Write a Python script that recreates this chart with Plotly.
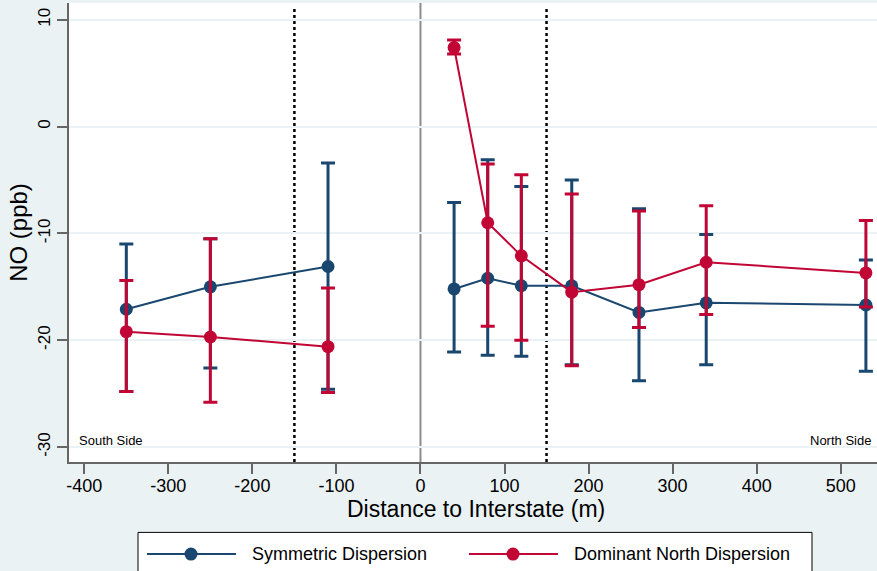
import plotly.graph_objects as go

# ---- data ----
sym_x = [-350, -250, -110, 40, 80, 120, 180, 260, 340, 530]
sym_y = [-17.1, -15.0, -13.1, -15.2, -14.2, -14.9, -14.9, -17.4, -16.5, -16.7]
sym_hi = [-11.0, -10.5, -3.4, -7.1, -3.1, -5.6, -5.0, -7.7, -10.1, -12.5]
sym_lo = [-24.8, -22.6, -24.6, -21.1, -21.4, -21.5, -22.3, -23.8, -22.3, -22.9]

dom_x = [-350, -250, -110, 40, 80, 120, 180, 260, 340, 530]
dom_y = [-19.2, -19.7, -20.6, 7.4, -9.0, -12.1, -15.5, -14.8, -12.7, -13.7]
dom_hi = [-14.4, -10.5, -15.1, 8.1, -3.5, -4.5, -6.3, -7.9, -7.4, -8.8]
dom_lo = [-24.8, -25.8, -24.9, 6.8, -18.7, -20.0, -22.4, -18.8, -17.6, -16.9]

x_ticks = [-400, -300, -200, -100, 0, 100, 200, 300, 400, 500]
y_ticks = [-30, -20, -10, 0, 10]
vlines_dotted = [-150, 150]

BLUE = "#1a476f"
RED = "#c10534"
BG = "#eaf2f3"
FONT = "Liberation Sans, Arial, sans-serif"

fig = go.Figure()

def add_series(xs, ys, hi, lo, color, name):
    # south side and north side are drawn as separate connected segments
    for side in (lambda v: v < 0, lambda v: v > 0):
        idx = [i for i, v in enumerate(xs) if side(v)]
        sx = [xs[i] for i in idx]
        sy = [ys[i] for i in idx]
        fig.add_trace(go.Scatter(
            x=sx, y=sy, mode="lines+markers", name=name,
            line=dict(color=color, width=2),
            marker=dict(color=color, size=13),
            error_y=dict(type="data", symmetric=False,
                         array=[hi[i] - ys[i] for i in idx],
                         arrayminus=[ys[i] - lo[i] for i in idx],
                         color=color, thickness=3, width=7),
            showlegend=False,
        ))

add_series(sym_x, sym_y, sym_hi, sym_lo, BLUE, "Symmetric Dispersion")
add_series(dom_x, dom_y, dom_hi, dom_lo, RED, "Dominant North Dispersion")

shapes = []
# zero line
shapes.append(dict(type="line", xref="x", yref="paper", x0=0, x1=0, y0=0, y1=1,
                   line=dict(color="#8c8c8c", width=2), layer="below"))
for v in vlines_dotted:
    shapes.append(dict(type="line", xref="x", yref="paper", x0=v, x1=v, y0=0, y1=0.993,
                       line=dict(color="black", width=2.5, dash="dot"), layer="below"))

# custom legend (paper coordinates)
def px_x(p):
    return (p - 69) / 808.0

def px_y(p):
    return (461.7 - p) / 458.4

shapes.append(dict(type="rect", xref="paper", yref="paper",
                   x0=px_x(138), x1=px_x(812), y0=px_y(590), y1=px_y(532),
                   line=dict(color="black", width=1), fillcolor="white", layer="above"))
legend_items = [(147, 236, 191, 250, BLUE, "Symmetric Dispersion"),
                (469, 558, 513, 572, RED, "Dominant North Dispersion")]
annotations = []
ly = px_y(553.7)
for x0, x1, xm, xt, col, txt in legend_items:
    shapes.append(dict(type="line", xref="paper", yref="paper",
                       x0=px_x(x0), x1=px_x(x1), y0=ly, y1=ly,
                       line=dict(color=col, width=2)))
    shapes.append(dict(type="circle", xref="paper", yref="paper",
                       xsizemode="pixel", ysizemode="pixel",
                       xanchor=px_x(xm), yanchor=ly, x0=-6.5, x1=6.5, y0=-6.5, y1=6.5,
                       line=dict(color=col, width=0), fillcolor=col))
    annotations.append(dict(xref="paper", yref="paper", x=px_x(xt), y=ly,
                            xanchor="left", yanchor="middle", text=txt, showarrow=False,
                            font=dict(size=18, color="black", family=FONT)))

annotations.append(dict(x=-409, y=-30, xref="x", yref="y", xanchor="left", yanchor="bottom",
                        yshift=-3, text="South Side", showarrow=False,
                        font=dict(size=13, color="black", family=FONT)))
annotations.append(dict(x=px_x(873), y=-30, xref="paper", yref="y", xanchor="right", yanchor="bottom",
                        yshift=-3, text="North Side", showarrow=False,
                        font=dict(size=13, color="black", family=FONT)))
# x-axis title
annotations.append(dict(x=px_x(476), y=px_y(509), xref="paper", yref="paper",
                        xanchor="center", yanchor="middle",
                        text="Distance to Interstate (m)", showarrow=False,
                        font=dict(size=23, color="black", family=FONT)))

fig.update_layout(
    width=877, height=571,
    margin=dict(l=69, r=0, t=3, b=109),
    paper_bgcolor=BG, plot_bgcolor="white",
    font=dict(family=FONT, color="black"),
    shapes=shapes, annotations=annotations,
    showlegend=False,
    xaxis=dict(range=[-418.2, 543.2], tickvals=x_ticks, ticktext=[str(v) for v in x_ticks],
               showgrid=False, zeroline=False, showline=True, linecolor="#666666", linewidth=2,
               ticks="outside", ticklen=10, tickcolor="#666666", tickwidth=1.5,
               ticklabelstandoff=-4, tickfont=dict(size=18)),
    yaxis=dict(range=[-31.4, 11.57], tickvals=y_ticks, ticktext=[str(v) for v in y_ticks],
               showgrid=True, gridcolor=BG, gridwidth=2, zeroline=False,
               showline=True, linecolor="#666666", linewidth=2,
               ticks="outside", ticklen=10, tickcolor="#666666", tickwidth=1.5,
               tickangle=-90, tickfont=dict(size=17),
               title=dict(text="NO (ppb)", font=dict(size=24), standoff=1)),
)

fig.write_html("out.html")
